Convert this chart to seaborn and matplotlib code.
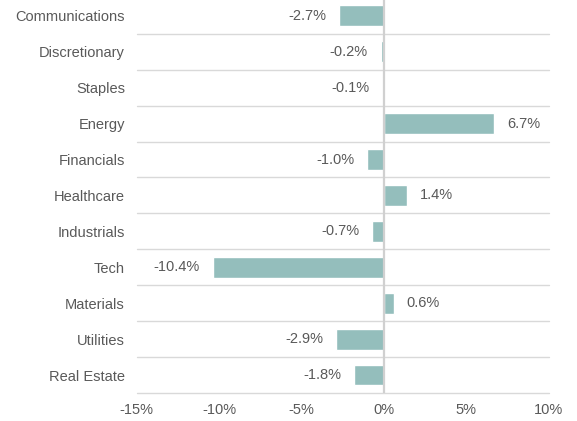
import matplotlib
matplotlib.use("Agg")
import matplotlib.pyplot as plt
import seaborn as sns
import pandas as pd
from matplotlib.ticker import FuncFormatter

sectors = ["Communications", "Discretionary", "Staples", "Energy", "Financials",
           "Healthcare", "Industrials", "Tech", "Materials", "Utilities", "Real Estate"]
returns = [-2.7, -0.2, -0.1, 6.7, -1.0, 1.4, -0.7, -10.4, 0.6, -2.9, -1.8]
xticks = [-15, -10, -5, 0, 5, 10]

df = pd.DataFrame({"sector": sectors, "ret": returns})

sns.set_theme(style="white")
plt.rcParams['font.family'] = ['Liberation Sans', 'DejaVu Sans']

fig = plt.figure(figsize=(5.77, 4.21), dpi=100)
ax = fig.add_axes([0.237, 0.0665, 0.714, 0.9385])

sns.barplot(data=df, y="sector", x="ret", orient="h", color="#94bebc",
            saturation=1, width=0.58, ax=ax)

ax.set_xlim(-15, 10)
ax.set_ylim(len(sectors) - 0.5, -0.5)
ax.set_xticks(xticks)
ax.xaxis.set_major_formatter(FuncFormatter(lambda v, p: f"{v:.0f}%"))
ax.set_xlabel("")
ax.set_ylabel("")

# horizontal separators between categories
for i in range(len(sectors)):
    ax.axhline(i + 0.5, color="#d9d9d9", lw=1, zorder=0, clip_on=False)
ax.axvline(0, color="#d0d0d0", lw=1.6, zorder=3)

for s in ax.spines.values():
    s.set_visible(False)

ax.tick_params(axis="y", length=0, pad=8.5, labelsize=10.5, labelcolor="#595959")
ax.tick_params(axis="x", length=0, pad=7, labelsize=10.5, labelcolor="#595959")

px_per_unit = (0.714 * 577) / 25.0
off = 13 / px_per_unit
for i, v in enumerate(returns):
    if v >= 0:
        ax.text(v + off, i, f"{v:.1f}%", ha="left", va="center", fontsize=10.5, color="#595959")
    else:
        ax.text(v - off, i, f"{v:.1f}%", ha="right", va="center", fontsize=10.5, color="#595959")

fig.savefig("out.png", dpi=100)
